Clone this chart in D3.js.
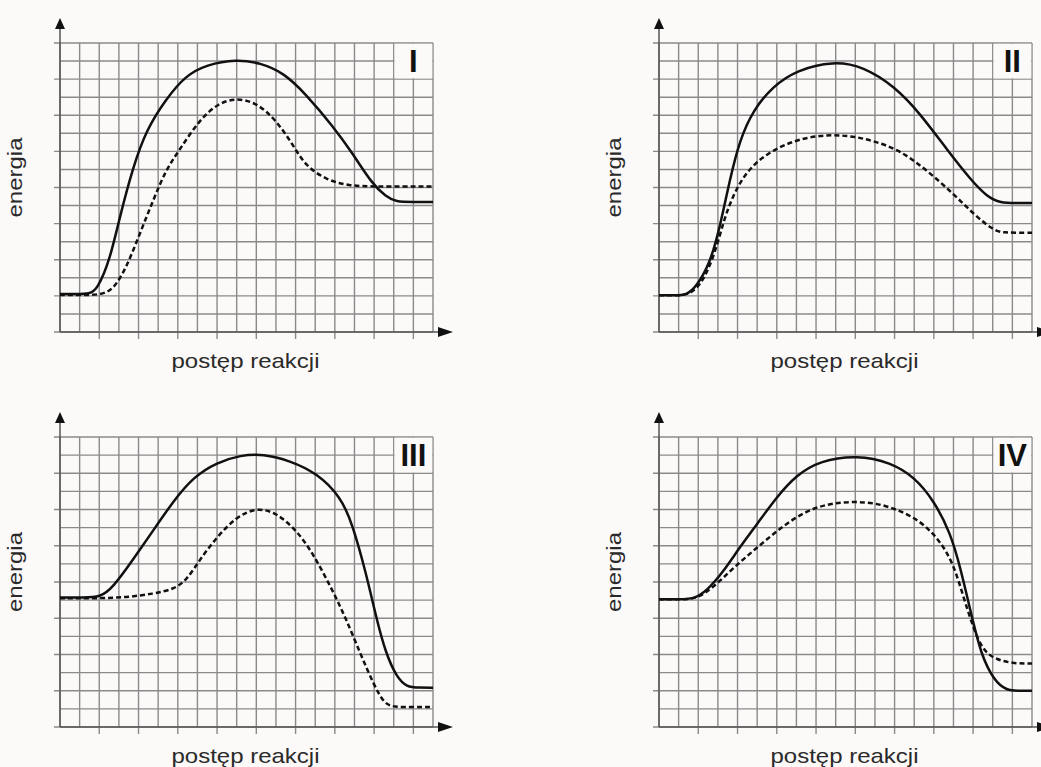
<!DOCTYPE html>
<html><head><meta charset="utf-8">
<script src="https://cdn.jsdelivr.net/npm/d3@7"></script>
<style>html,body{margin:0;padding:0;background:#fcf9f9;}svg{display:block;}</style>
</head><body>
<svg id="chart" width="1041" height="767"></svg>
<script>
// ---- data (grid units: x 0..19 cells, y 0..16 cells) ----
const panelNames = ["I", "II", "III", "IV"];
const xTitle = "postęp reakcji";
const yTitle = "energia";
const xCells = 19, yCells = 16;

const solidI  = [[0,2.1],[0.8,2.1],[1.5,2.1],[1.9,2.35],[2.54,3.98],[3.05,6.4],[3.73,9.17],[4.4,11.2],[5.4,12.9],[6.4,14.2],[7.46,14.8],[8.98,15.1],[10.2,14.9],[11.4,14.35],[12.5,13.2],[13.9,11.4],[14.9,9.9],[15.9,8.2],[16.6,7.5],[17.1,7.2],[18,7.2],[19,7.2]];
const dashedI = [[0,2.05],[1.0,2.05],[2.0,2.05],[2.7,2.3],[3.4,3.6],[4.07,5.46],[4.75,7.3],[5.4,9.0],[6.1,10.1],[7.1,11.75],[8.1,12.7],[9.0,12.95],[10.0,12.7],[11.0,11.75],[11.9,10.3],[12.5,9.2],[13.6,8.4],[14.7,8.1],[16,8.05],[19,8.05]];

const solidII  = [[0,2.03],[0.8,2.03],[1.4,2.03],[1.9,2.5],[2.6,3.8],[3.1,5.8],[3.6,8.4],[4.1,10.6],[4.8,12.3],[5.8,13.6],[7.0,14.5],[8.9,15.0],[10.4,14.7],[12.0,13.6],[13.3,12.1],[14.7,10.05],[15.9,8.4],[16.7,7.5],[17.4,7.14],[18.2,7.14],[19,7.14]];
const dashedII = [[0,2.03],[0.8,2.03],[1.4,2.03],[2.1,2.5],[2.8,4.15],[3.3,6.2],[3.8,7.65],[4.5,8.95],[5.5,9.9],[6.85,10.6],[8.2,10.9],[9.6,10.9],[10.9,10.6],[12.3,10.05],[13.65,8.95],[15.0,7.65],[16.0,6.55],[17.06,5.6],[17.6,5.5],[18.3,5.5],[19,5.5]];

const solidIII  = [[0,7.15],[1.2,7.15],[2.04,7.15],[2.7,7.7],[3.7,9.2],[4.75,10.85],[5.8,12.5],[6.8,13.8],[8.0,14.6],[9.2,15.0],[10.35,15.07],[11.7,14.7],[13.1,14.0],[14.3,12.7],[14.9,11.2],[15.6,8.45],[16.1,6.07],[16.6,4.04],[17.15,2.76],[17.66,2.2],[18.3,2.17],[19,2.17]];
const dashedIII = [[0,7.1],[1.8,7.1],[3.4,7.15],[4.75,7.35],[5.8,7.6],[6.45,8.1],[7.1,9.2],[8.0,10.5],[9.0,11.6],[10.0,12.1],[11.0,11.85],[12.05,10.85],[12.9,9.56],[13.9,7.5],[14.6,5.9],[15.3,4.04],[15.96,2.4],[16.5,1.29],[17.0,1.1],[18,1.1],[19,1.1]];

const solidIV  = [[0,7.05],[1.0,7.05],[1.75,7.05],[2.43,7.5],[3.3,8.6],[4.1,9.9],[5.0,11.2],[6.0,12.7],[7.0,13.9],[8.2,14.7],[10.1,15.0],[11.8,14.6],[13.0,13.8],[14.0,12.5],[14.85,10.7],[15.35,8.8],[15.9,6.25],[16.4,4.0],[17.06,2.57],[17.7,2.0],[18.4,2.0],[19,2.0]];
const dashedIV = [[0,7.05],[1.0,7.05],[1.9,7.05],[2.77,7.7],[3.8,8.8],[5.0,9.9],[6.2,11.0],[7.5,11.95],[8.9,12.4],[10.6,12.45],[11.96,12.1],[13.3,11.4],[14.3,10.3],[15.0,9.0],[15.5,7.2],[16.0,5.5],[16.5,4.2],[17.2,3.7],[18.1,3.5],[19,3.5]];

const solidSeries  = [solidI, solidII, solidIII, solidIV];
const dashedSeries = [dashedI, dashedII, dashedIII, dashedIV];

// ---- layout ----
const frames = [
  {left: 60,  right: 433,  top: 43,  bottom: 332},
  {left: 659, right: 1032, top: 43,  bottom: 332},
  {left: 60,  right: 433,  top: 437, bottom: 727},
  {left: 659, right: 1032, top: 437, bottom: 727}
];
const bg = "#fcf9f9";
const svg = d3.select("#chart");
svg.append("rect").attr("width", 1041).attr("height", 767).attr("fill", bg);

panelNames.forEach((name, i) => {
  const f = frames[i];
  const x = d3.scaleLinear().domain([0, xCells]).range([f.left, f.right]);
  const y = d3.scaleLinear().domain([0, yCells]).range([f.bottom, f.top]);
  const g = svg.append("g");

  // grid
  const grid = g.append("g").attr("stroke", "#8a8a8a").attr("stroke-width", 1.4).attr("fill", "none");
  d3.range(0, xCells + 1).forEach(c => {
    grid.append("line").attr("x1", x(c)).attr("x2", x(c))
      .attr("y1", y(0) + (c % 2 === 0 && c > 0 ? 7 : 0)).attr("y2", y(yCells));
  });
  d3.range(0, yCells + 1).forEach(r => {
    grid.append("line").attr("y1", y(r)).attr("y2", y(r))
      .attr("x1", x(0) - (r % 2 === 0 ? 6 : 0)).attr("x2", x(xCells));
  });
  // label box (grid hidden behind roman numeral)
  g.append("rect").attr("x", x(17) + 0.8).attr("y", y(yCells) + 0.8)
    .attr("width", x(19) - x(17) - 1.6).attr("height", y(14) - y(16) - 1.6).attr("fill", bg);

  // axes
  const ax = g.append("g").attr("stroke", "#555").attr("stroke-width", 1.5);
  ax.append("line").attr("x1", x(0)).attr("x2", x(0)).attr("y1", y(0)).attr("y2", y(yCells) - 16);
  ax.append("line").attr("x1", x(0)).attr("x2", x(xCells) + 10).attr("y1", y(0)).attr("y2", y(0));
  // arrows
  const tipY = y(yCells) - 25, tipX = x(xCells) + 20;
  g.append("path").attr("fill", "#111")
    .attr("d", `M${x(0)},${tipY} L${x(0) - 5},${tipY + 11} L${x(0) + 5},${tipY + 11} Z`);
  g.append("path").attr("fill", "#111")
    .attr("d", `M${tipX},${y(0)} L${tipX - 15},${y(0) - 5} L${tipX - 15},${y(0) + 5} Z`);

  // curves
  const line = d3.line().x(d => x(d[0])).y(d => y(d[1])).curve(d3.curveBasis);
  g.append("path").datum(dashedSeries[i]).attr("d", line).attr("fill", "none")
    .attr("stroke", "#111").attr("stroke-width", 2.5).attr("stroke-dasharray", "5,3");
  g.append("path").datum(solidSeries[i]).attr("d", line).attr("fill", "none")
    .attr("stroke", "#111").attr("stroke-width", 2.5);

  // roman numeral
  g.append("text").attr("x", x(18)).attr("y", y(yCells) + 29)
    .attr("text-anchor", "middle").attr("font-family", "Liberation Sans, Arial, sans-serif")
    .attr("font-weight", "bold").attr("font-size", 31).attr("fill", "#111").text(name);

  // axis titles
  const cx = (f.left + f.right) / 2;
  g.append("text").attr("x", cx - 1).attr("y", f.bottom + 36)
    .attr("text-anchor", "middle").attr("font-family", "Liberation Sans, Arial, sans-serif")
    .attr("font-size", 21).attr("fill", "#2a2a2a")
    .attr("textLength", 148).attr("lengthAdjust", "spacingAndGlyphs").text(xTitle);
  const ly = (f.top + f.bottom) / 2 - 10, lx = f.left - 38;
  g.append("text").attr("transform", `translate(${lx},${ly}) rotate(-90)`)
    .attr("text-anchor", "middle").attr("font-family", "Liberation Sans, Arial, sans-serif")
    .attr("font-size", 21).attr("fill", "#2a2a2a")
    .attr("textLength", 80).attr("lengthAdjust", "spacingAndGlyphs").text(yTitle);
});
</script>
</body></html>
